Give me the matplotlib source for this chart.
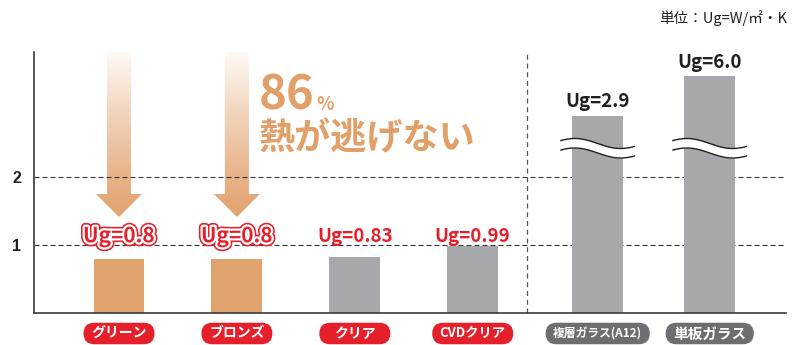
import numpy as np
import matplotlib
matplotlib.use("Agg")
import matplotlib.pyplot as plt
from matplotlib import patheffects as pe
from matplotlib import transforms as mtrans
from matplotlib.patches import FancyBboxPatch, Polygon
from matplotlib.colors import to_rgb

# ---- data -------------------------------------------------------------
categories = ["グリーン", "ブロンズ", "クリア", "CVDクリア", "複層ガラス(A12)", "単板ガラス"]
ug_values = [0.8, 0.8, 0.83, 0.99, 2.9, 6.0]
y_ticks = [1, 2]
headline_number = "86"
headline_unit = "%"
headline_text = "熱が逃げない"
unit_note = "単位：Ug=W/㎡・K"

# ---- style ------------------------------------------------------------
plt.rcParams["font.family"] = ["Noto Sans CJK JP", "DejaVu Sans"]

ORANGE = "#e0a36e"
GREY = "#a7a8ab"
RED = "#e5202a"
PILL_GREY = "#6d6e71"
INK = "#231f20"
HEAD = "#e29f68"

bar_colors = [ORANGE, ORANGE, GREY, GREY, GREY, GREY]
label_styles = ["outline", "outline", "red", "red", "black", "black"]
pill_colors = [RED, RED, RED, RED, PILL_GREY, PILL_GREY]
pill_sizes = [10, 10, 10, 9.5, 8.5, 10.5]
arrow_bars = [0, 1]
x_pos = np.array([0, 1, 2, 3, 4.06, 5.01])

# broken value axis: linear up to BREAK_AT, squeezed above it
BREAK_AT = 2.9
SQUEEZE = 0.1888


def fwd(v):
    v = np.asarray(v, float)
    return np.where(v <= BREAK_AT, v, BREAK_AT + (v - BREAK_AT) * SQUEEZE)


def inv(d):
    d = np.asarray(d, float)
    return np.where(d <= BREAK_AT, d, BREAK_AT + (d - BREAK_AT) / SQUEEZE)


W, H = 797, 345
fig = plt.figure(figsize=(W / 100, H / 100), dpi=100)
rect = [33.5 / W, 32 / H, 752.5 / W, 261 / H]
XLIM = (-0.725, 5.657)
PX = 261  # overlay height in pixels above the baseline

back = fig.add_axes(rect, zorder=0)
ax = fig.add_axes(rect, zorder=1)
front = fig.add_axes(rect, zorder=2)
ax.patch.set_alpha(0)

ax.set_yscale("function", functions=(fwd, inv))
ax.set_xlim(*XLIM)
ax.set_ylim(0, float(inv(PX / 68.0)))

# bars
ax.bar(x_pos, ug_values, width=0.432, color=bar_colors, zorder=2)

# reference lines and group separator
for t in y_ticks:
    ax.axhline(t, color="#333333", lw=0.8, ls=(0, (4.5, 2.7)), zorder=1)
ax.axvline(3.46, color="#555555", lw=0.9, ls=(0, (4.0, 3.0)), zorder=1)

for s in ("top", "right"):
    ax.spines[s].set_visible(False)
for s in ("left", "bottom"):
    ax.spines[s].set_color("#3a3a3a")
    ax.spines[s].set_linewidth(1.2)
ax.set_xticks([])
ax.set_yticks(y_ticks)
ax.set_yticklabels([str(t) for t in y_ticks], family="Liberation Sans",
                   fontweight="bold", fontsize=11.5, color=INK)
ax.tick_params(axis="y", length=0, pad=9)
ax.minorticks_off()

# value labels
outline = [pe.Stroke(linewidth=5.5, foreground=RED),
           pe.Stroke(linewidth=3.2, foreground="white"), pe.Normal()]
LOW_BASELINE = 1.04
for x, v, st in zip(x_pos, ug_values, label_styles):
    txt = f"Ug={v}"
    if st == "outline":
        ax.text(x, LOW_BASELINE, txt, ha="center", va="baseline", fontsize=15,
                fontweight="bold", color=RED, path_effects=outline, zorder=4)
    elif st == "red":
        ax.text(x, LOW_BASELINE, txt, ha="center", va="baseline", fontsize=13.5,
                fontweight="bold", color=RED, zorder=4)
    else:
        ax.annotate(txt, (x, v), xytext=(0, 6), textcoords="offset points",
                    ha="center", va="baseline", fontsize=13.5, fontweight="bold",
                    color=INK, zorder=4)

# gradient arrows behind the grid
top_c = np.array(to_rgb("#fefaf5"))
bot_c = np.array(to_rgb("#e2a371"))
ramp = np.linspace(0, 1, 256)[:, None] ** 1.2          # 0 at the tip, 1 at top
rgb = bot_c[None, None, :] + (top_c - bot_c)[None, None, :] * ramp[:, :, None]
sw, hw = 0.102, 0.195
tip, neck, top = 96, 119, 261
for i in arrow_bars:
    x = x_pos[i]
    poly = Polygon([(x - sw, top), (x + sw, top), (x + sw, neck), (x + hw, neck),
                    (x, tip), (x - hw, neck), (x - sw, neck)], closed=True,
                   facecolor="none", edgecolor="none")
    back.add_patch(poly)
    im = back.imshow(np.repeat(rgb, 2, axis=1), extent=(x - hw, x + hw, tip, top),
                     origin="lower", aspect="auto", interpolation="bilinear")
    im.set_clip_path(poly)

# wavy break marks on the bars that exceed the scale
t = np.linspace(-0.3, 1.3, 120)
for x, v in zip(x_pos, ug_values):
    if v > y_ticks[-1]:
        xs = x + (t - 0.5) * 0.39
        upper = 169.5 + 5.0 * np.cos(np.pi * t)
        lower = 160.0 + 5.0 * np.cos(np.pi * t)
        front.fill_between(xs, lower, upper, color="white", lw=0)
        front.plot(xs, upper, color=INK, lw=1.0)
        front.plot(xs, lower, color=INK, lw=1.0)

for a in (back, front):
    a.set_xlim(*XLIM)
    a.set_ylim(0, PX)
    a.set_axis_off()

# headline
n86 = fig.text(259 / W, 1 - 110 / H, headline_number, fontsize=34, color=HEAD,
               ha="left", va="baseline", fontweight="bold")
fig.canvas.draw()
renderer = fig.canvas.get_renderer()
x_end = n86.get_window_extent(renderer).x1
fig.text((x_end + 2) / W, 1 - 110 / H, headline_unit, fontsize=13, color=HEAD,
         ha="left", va="baseline", fontweight="bold")
fig.text(259 / W, 1 - 139 / H, headline_text, fontsize=26, color=HEAD,
         ha="left", va="center", fontweight="bold")

fig.text(787 / W, 1 - 18 / H, unit_note, fontsize=10.5, color=INK,
         ha="right", va="center")

# category pills below the axis
xaxis_tr = ax.get_xaxis_transform()
PILL_DROP = 0.205  # inches below the baseline
for x, name, col, fs in zip(x_pos, categories, pill_colors, pill_sizes):
    lbl = ax.annotate(name, xy=(x, 0), xycoords=xaxis_tr,
                      xytext=(0, -PILL_DROP * 72), textcoords="offset points",
                      ha="center", va="center", fontsize=fs, fontweight="bold",
                      color="white", zorder=6, annotation_clip=False)
    tw = lbl.get_window_extent(renderer).width / fig.dpi
    w = max(0.71, tw + 0.15)
    h = 0.215
    tr = fig.dpi_scale_trans + mtrans.ScaledTranslation(x, 0, xaxis_tr)
    pill = FancyBboxPatch((-w / 2, -PILL_DROP - h / 2), w, h,
                          boxstyle=f"round,pad=0,rounding_size={h / 2}",
                          facecolor=col, edgecolor="none", transform=tr,
                          clip_on=False, zorder=5)
    ax.add_artist(pill)

fig.savefig("out.png", dpi=100)
